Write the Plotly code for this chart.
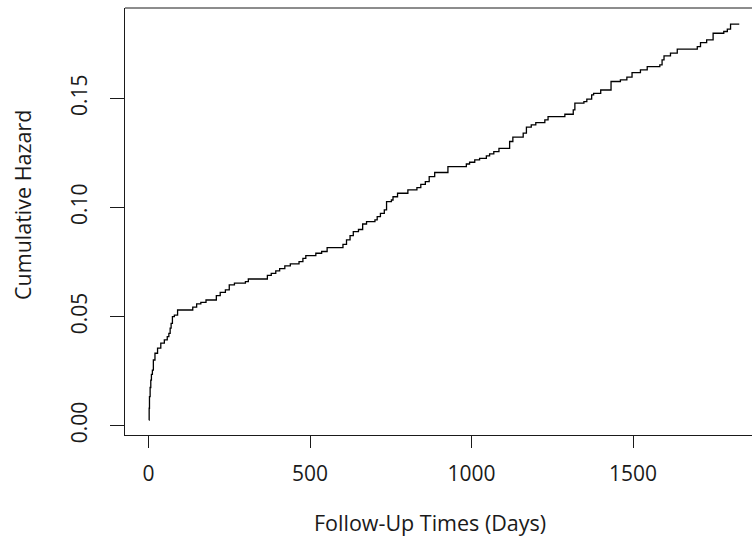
import plotly.graph_objects as go

# Event times (days) and Nelson-Aalen cumulative hazard after each step
times = [1, 2, 3, 5, 7, 9, 12, 15, 20, 28, 38, 49, 58, 63, 67, 70, 74, 80, 90,
         137, 149, 162, 178, 210, 222, 238, 250, 266, 300, 309, 368, 380, 394,
         406, 422, 439, 466, 478, 487, 518, 536, 553, 602, 613, 624, 634, 650,
         663, 675, 701, 708, 718, 730, 737, 752, 757, 771, 803, 831, 843, 857,
         869, 886, 927, 984, 994, 1010, 1025, 1046, 1056, 1069, 1085, 1118,
         1128, 1160, 1170, 1185, 1199, 1227, 1237, 1289, 1315, 1320, 1348,
         1357, 1372, 1378, 1400, 1432, 1461, 1481, 1497, 1523, 1544, 1583,
         1590, 1596, 1616, 1637, 1699, 1709, 1728, 1748, 1781, 1792, 1802, 1829]
cumhaz = [0.0026, 0.0080, 0.0133, 0.0175, 0.0209, 0.0235, 0.0255, 0.0301,
          0.0332, 0.0355, 0.0378, 0.0393, 0.0408, 0.0423, 0.0447, 0.0469,
          0.0500, 0.0507, 0.0530, 0.0543, 0.0558, 0.0565, 0.0576, 0.0596,
          0.0611, 0.0622, 0.0645, 0.0653, 0.0660, 0.0672, 0.0689, 0.0698,
          0.0709, 0.0720, 0.0732, 0.0741, 0.0752, 0.0767, 0.0779, 0.0790,
          0.0798, 0.0816, 0.0831, 0.0851, 0.0871, 0.0889, 0.0899, 0.0924,
          0.0935, 0.0943, 0.0958, 0.0973, 0.0989, 0.1027, 0.1034, 0.1049,
          0.1065, 0.1080, 0.1091, 0.1106, 0.1118, 0.1141, 0.1160, 0.1187,
          0.1199, 0.1207, 0.1218, 0.1225, 0.1236, 0.1245, 0.1256, 0.1271,
          0.1302, 0.1322, 0.1340, 0.1368, 0.1378, 0.1389, 0.1401, 0.1416,
          0.1427, 0.1447, 0.1478, 0.1485, 0.1496, 0.1516, 0.1523, 0.1538,
          0.1577, 0.1584, 0.1597, 0.1618, 0.1630, 0.1645, 0.1653, 0.1676,
          0.1694, 0.1707, 0.1725, 0.1737, 0.1755, 0.1768, 0.1798, 0.1806,
          0.1817, 0.1840, 0.1840]

x_ticks = [0, 500, 1000, 1500]
y_ticks = [0.00, 0.05, 0.10, 0.15]
y_tick_labels = ["0.00", "0.05", "0.10", "0.15"]

x_title = "Follow-Up Times (Days)"
y_title = "Cumulative Hazard"

FONT = "Open Sans"
INK = "#1a1a1a"
TICK_SIZE = 21
TITLE_SIZE = 21.5

fig = go.Figure()
fig.add_trace(go.Scatter(
    x=times, y=cumhaz, mode="lines",
    line=dict(color="black", width=1.3, shape="hv"),
    showlegend=False, hoverinfo="skip",
))

fig.update_layout(
    width=752, height=537,
    margin=dict(l=125, r=0, t=8, b=102),
    paper_bgcolor="white", plot_bgcolor="white",
    font=dict(family=FONT, color=INK, size=TICK_SIZE),
    xaxis=dict(
        range=[-72.8, 1868.4], tickvals=x_ticks,
        ticks="outside", ticklen=12, tickwidth=1, tickcolor=INK,
        showline=True, linecolor=INK, linewidth=1,
        showgrid=False, zeroline=False,
        tickfont=dict(family=FONT, size=TICK_SIZE, color=INK),
        ticklabelstandoff=8,
    ),
    yaxis=dict(
        range=[-0.00426, 0.19137], tickvals=y_ticks, ticktext=y_tick_labels,
        tickangle=-90,
        ticks="outside", ticklen=14, tickwidth=1, tickcolor=INK,
        showline=True, linecolor=INK, linewidth=1,
        showgrid=False, zeroline=False,
        tickfont=dict(family=FONT, size=TICK_SIZE, color=INK),
        ticklabelstandoff=15,
    ),
    shapes=[dict(type="line", xref="paper", yref="paper",
                 x0=0, x1=1, y0=1, y1=1,
                 line=dict(color=INK, width=1))],
    annotations=[
        dict(text=x_title, xref="paper", yref="paper",
             x=(430 - 125) / 627, y=(435 - 522) / 427,
             xanchor="center", yanchor="middle",
             showarrow=False, font=dict(family=FONT, size=TITLE_SIZE, color=INK)),
        dict(text=y_title, xref="paper", yref="paper",
             x=(23 - 125) / 627, y=(435 - 205) / 427,
             xanchor="center", yanchor="middle",
             textangle=-90, showarrow=False,
             font=dict(family=FONT, size=TITLE_SIZE, color=INK)),
    ],
)

fig.write_html("out.html")
